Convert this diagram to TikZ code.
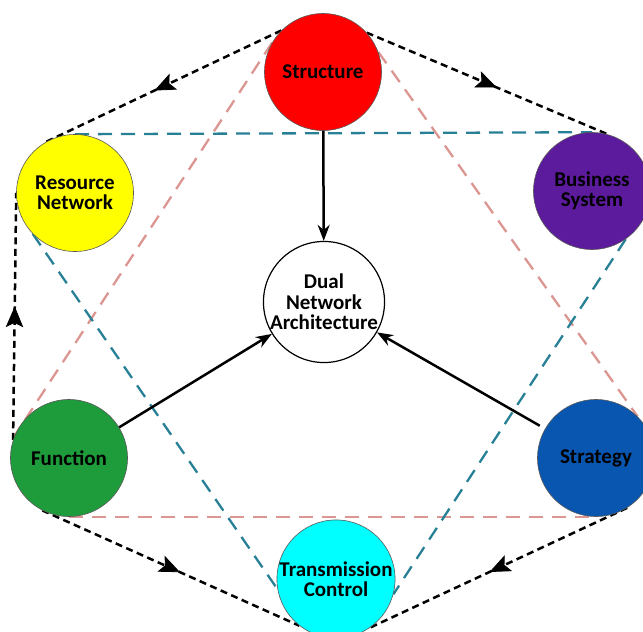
\documentclass[tikz,border=0pt]{standalone}
\usepackage{fontspec}
\setmainfont{Carlito}
\usetikzlibrary{arrows.meta,decorations.markings}
\pgfdeclarelayer{bg}
\pgfsetlayers{bg,main}

\definecolor{cStruct}{RGB}{255,0,0}
\definecolor{cRes}{RGB}{255,255,0}
\definecolor{cBiz}{RGB}{92,26,156}
\definecolor{cFunc}{RGB}{30,155,58}
\definecolor{cStrat}{RGB}{8,86,176}
\definecolor{cTrans}{RGB}{0,255,255}
\definecolor{cPink}{RGB}{220,150,145}
\definecolor{cTeal}{RGB}{40,128,150}

\tikzset{
  hub/.style={circle, draw=black!65, line width=0.6pt, minimum size=117pt,
    inner sep=0pt, align=center,
    font=\fontsize{21}{20.5}\selectfont\bfseries},
  core/.style={hub, fill=white, draw=black, line width=1.2pt, minimum size=120pt},
  cycleflow/.style={black, line width=2.5pt, dash pattern=on 7pt off 4.5pt,
    postaction={decorate},
    decoration={markings, mark=at position 0.5 with {
      \filldraw[solid, line width=0.8pt, line join=miter]
        (9pt,0pt) -- (-10pt,8pt) -- (-6pt,0pt) -- (-10pt,-8pt) -- cycle;}}},
  pinkline/.style={cPink, line width=2.3pt, dash pattern=on 14pt off 9pt},
  tealline/.style={cTeal, line width=2.3pt, dash pattern=on 14pt off 9pt},
  feed/.style={black, line width=2.5pt, -{Stealth[length=16pt,width=12pt]}},
}

\begin{document}
\begin{tikzpicture}[x=1pt, y=-1pt]
  \useasboundingbox (0,0) rectangle (643,632);
  \clip (0,0) rectangle (643,632);

  % outer ring of elements
  \node[hub, fill=cStruct] (S) at (323,72)  {Structure};
  \node[hub, fill=cRes]    (R) at (75,193)  {Resource\\Network};
  \node[hub, fill=cBiz]    (B) at (592,191) {Business\\System};
  \node[hub, fill=cFunc]   (F) at (69,458)  {Function};
  \node[hub, fill=cStrat]  (Y) at (596,458) {Strategy};
  \node[hub, fill=cTrans]  (T) at (336,579) {Transmission\\Control};

  % centre
  \node[core] (D) at (324,302) {Dual\\Network\\Architecture};

  \begin{pgfonlayer}{bg}
    % triangle through Structure, Function and Strategy
    \draw[pinkline] (S.150) -- (F.158);
    \draw[pinkline] (S.20) -- (Y.45);
    \draw[pinkline] (F.270) -- (Y.270);
    % triangle through Resource Network, Business System and Transmission Control
    \draw[tealline] (R.90) -- (B.90);
    \draw[tealline] (R.224) -- (T.190);
    \draw[tealline] (B.305) -- (T.345);
    % outer cycle
    \draw[cycleflow] (S.135) -- (R.120);
    \draw[cycleflow] (S.42) -- (B.74);
    \draw[cycleflow] (F.162) -- (R.180);
    \draw[cycleflow] (F.243) -- (T.232);
    \draw[cycleflow] (Y.302) -- (T.305);
  \end{pgfonlayer}

  % inputs to the centre
  \draw[feed] (S) -- (D);
  \draw[feed] (F) -- (D);
  \draw[feed, shorten <=6pt] (Y) -- (D);
\end{tikzpicture}
\end{document}
